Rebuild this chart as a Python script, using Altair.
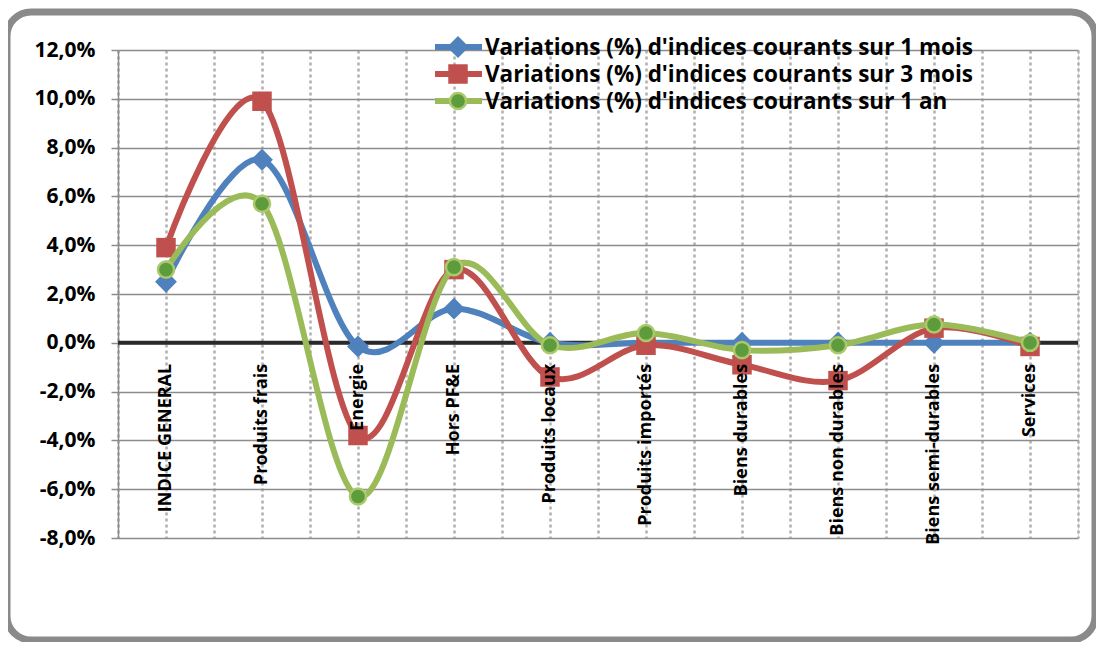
import altair as alt
import pandas as pd

categories = ["INDICE GENERAL", "Produits frais", "Energie", "Hors PF&E", "Produits locaux",
              "Produits importés", "Biens durables", "Biens non durables", "Biens semi-durables", "Services"]
series_names = ["Variations (%) d'indices courants sur 1 mois",
                "Variations (%) d'indices courants sur 3 mois",
                "Variations (%) d'indices courants sur 1 an"]
var_1_mois = [2.5, 7.5, -0.15, 1.4, 0.0, 0.0, 0.0, 0.0, 0.0, 0.0]
var_3_mois = [3.9, 9.9, -3.8, 3.0, -1.4, -0.1, -0.9, -1.55, 0.6, -0.15]
var_1_an = [3.0, 5.7, -6.3, 3.1, -0.1, 0.4, -0.3, -0.1, 0.75, 0.0]
y_ticks = [-8, -6, -4, -2, 0, 2, 4, 6, 8, 10, 12]

colors = ["#4F81BD", "#C0504D", "#9BBB59"]
shapes = ["diamond", "square", "circle"]
sizes = [480, 380, 260]
series_values = [var_1_mois, var_3_mois, var_1_an]

W, H = 960, 488
Y_MIN, Y_MAX = -8, 12
FONT = "Open Sans"

y_label_expr = "(datum.value < 0 ? '-' : '') + replace(format(abs(datum.value), '.1f'), '.', ',') + '%'"

x_scale = alt.Scale(domain=[-0.5, len(categories) - 0.5], nice=False, zero=False)
y_scale = alt.Scale(domain=[Y_MIN, Y_MAX], nice=False, zero=False)

x_grid_axis = alt.Axis(
    values=[-0.5 + 0.5 * k for k in range(2 * len(categories) + 1)],
    grid=True, gridDash=[3, 3], gridColor="#b0b0b0", gridWidth=2.5,
    ticks=False, domain=False, labels=False, title=None,
)
y_axis = alt.Axis(
    values=y_ticks, grid=True, gridColor="#8c8c8c", gridWidth=1.5,
    domainColor="#8c8c8c", domainWidth=1.5, tickColor="#8c8c8c", tickSize=7, tickWidth=1.5,
    labelExpr=y_label_expr, labelFont=FONT, labelFontWeight="bold", labelFontSize=21,
    labelColor="black", labelPadding=16, title=None,
)

one = alt.Data(values=[{"a": 0}])

frame = alt.Chart(one).mark_rect(
    cornerRadius=24, fill="white", fillOpacity=0, stroke="#8a8a8a", strokeWidth=7
).encode(x=alt.value(-111), x2=alt.value(977), y=alt.value(-38), y2=alt.value(590))

rows = []
for name, vals in zip(series_names, series_values):
    for i, (c, v) in enumerate(zip(categories, vals)):
        rows.append({"i": i, "categorie": c, "serie": name, "valeur": v})
df = pd.DataFrame(rows)
cat_df = pd.DataFrame({"i": list(range(len(categories))), "categorie": categories})

base_axes = alt.Chart(df).mark_line(opacity=0).encode(
    x=alt.X("i:Q", scale=x_scale, axis=x_grid_axis),
    y=alt.Y("valeur:Q", scale=y_scale, axis=y_axis),
    detail="serie:N",
)

zero_line = alt.Chart(one).mark_rule(color="#2a2a2a", strokeWidth=4).encode(y=alt.datum(0))

layers = [frame, base_axes, zero_line]
for k, name in enumerate(series_names):
    sub = df[df["serie"] == name]
    ln = alt.Chart(sub).mark_line(interpolate="cardinal", strokeWidth=6, color=colors[k]).encode(
        x=alt.X("i:Q", scale=x_scale), y=alt.Y("valeur:Q", scale=y_scale)
    )
    if shapes[k] == "circle":
        pt = alt.Chart(sub).mark_point(shape="circle", filled=True, size=sizes[k], color="#5e9b3c",
                                       stroke="#a9c96a", strokeWidth=2.5, opacity=1).encode(
            x=alt.X("i:Q", scale=x_scale), y=alt.Y("valeur:Q", scale=y_scale))
    else:
        pt = alt.Chart(sub).mark_point(shape=shapes[k], filled=True, size=sizes[k], color=colors[k],
                                       opacity=1).encode(
            x=alt.X("i:Q", scale=x_scale), y=alt.Y("valeur:Q", scale=y_scale))
    layers += [ln, pt]

cat_labels = alt.Chart(cat_df).mark_text(
    angle=270, align="right", baseline="middle", yOffset=21,
    font=FONT, fontWeight="bold", fontSize=18, color="black",
).encode(
    x=alt.X("i:Q", scale=x_scale), y=alt.datum(0, scale=y_scale), text="categorie:N"
)
layers.append(cat_labels)

# legend
for k, name in enumerate(series_names):
    yy = -3 + 27 * k
    lr = alt.Chart(one).mark_rule(color=colors[k], strokeWidth=6).encode(
        x=alt.value(317), x2=alt.value(364), y=alt.value(yy))
    if shapes[k] == "circle":
        lp = alt.Chart(one).mark_point(shape="circle", filled=True, size=sizes[k], color="#5e9b3c",
                                       stroke="#a9c96a", strokeWidth=2.5, opacity=1).encode(
            x=alt.value(340), y=alt.value(yy))
    else:
        lp = alt.Chart(one).mark_point(shape=shapes[k], filled=True, size=sizes[k], color=colors[k],
                                       opacity=1).encode(x=alt.value(340), y=alt.value(yy))
    lt = alt.Chart(one).mark_text(align="left", baseline="middle", font=FONT, fontWeight="bold",
                                  fontSize=22.5, color="black").encode(
        x=alt.value(367), y=alt.value(yy + 1), text=alt.value(name))
    layers += [lr, lp, lt]

chart = alt.layer(*layers).properties(
    width=W, height=H,
    autosize=alt.AutoSizeParams(type="none"),
    padding={"left": 110, "top": 42, "right": 18, "bottom": 104},
).configure_view(stroke=None).configure(background="white")

chart.save("out.html", embed_options={"renderer": "svg", "actions": False})
